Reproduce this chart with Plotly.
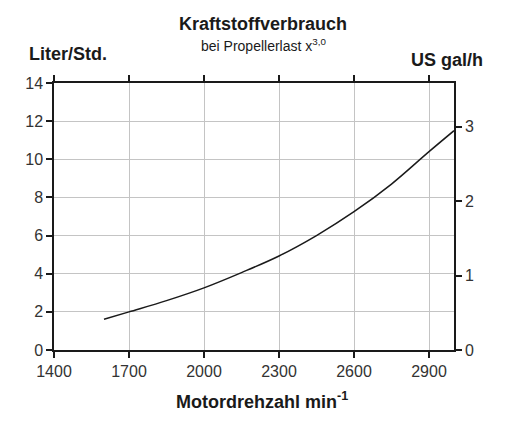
import plotly.graph_objects as go

# Data
rpm = [1600, 1700, 1850, 2000, 2150, 2300, 2450, 2600, 2750, 2900, 3000]
liters_per_hour = [1.61, 2.0, 2.59, 3.26, 4.06, 4.93, 6.0, 7.25, 8.7, 10.4, 11.5]
x_ticks = [1400, 1700, 2000, 2300, 2600, 2900]
y_ticks = [0, 2, 4, 6, 8, 10, 12, 14]
gal_ticks = [0, 1, 2, 3]
L_PER_GAL = 3.9  # scale ratio as drawn on the right axis

FONT = "Liberation Sans, Arial, sans-serif"
AX = "#1a1a1a"
GRID = "#c4c4c4"
TICKFONT = dict(family=FONT, size=16, color="#333333")

W, H = 514, 426
ML, MR, MT, MB = 54, 60, 83, 76
pw, ph = W - ML - MR, H - MT - MB

fig = go.Figure()
fig.add_trace(go.Scatter(
    x=rpm, y=liters_per_hour, mode="lines",
    line=dict(color="#1a1a1a", width=1.5, shape="spline", smoothing=1.0),
    showlegend=False, hoverinfo="skip",
))
fig.add_trace(go.Scatter(
    x=rpm, y=[v / L_PER_GAL for v in liters_per_hour], yaxis="y2", mode="lines",
    line=dict(color="rgba(0,0,0,0)", width=0),
    showlegend=False, hoverinfo="skip",
))


def ann(text, px, py, size):
    return dict(
        text=text, x=(px - ML) / pw, y=(H - py - MB) / ph,
        xref="paper", yref="paper", xanchor="center", yanchor="middle",
        showarrow=False, font=dict(family=FONT, size=size, color="#1a1a1a"),
    )


fig.update_layout(
    width=W, height=H,
    margin=dict(l=ML, r=MR, t=MT, b=MB),
    paper_bgcolor="white", plot_bgcolor="white",
    xaxis=dict(
        range=[1400, 3000], tickvals=x_ticks, ticktext=[str(v) for v in x_ticks],
        showgrid=True, gridcolor=GRID, gridwidth=1,
        showline=True, linecolor=AX, linewidth=1.5, mirror="ticks",
        ticks="outside", ticklen=6, tickcolor=AX, tickwidth=1.5,
        tickfont=TICKFONT, zeroline=False, fixedrange=True,
    ),
    yaxis=dict(
        range=[0, 14], tickvals=y_ticks,
        showgrid=True, gridcolor=GRID, gridwidth=1,
        showline=True, linecolor=AX, linewidth=1.5,
        ticks="outside", ticklen=6, tickcolor=AX, tickwidth=1.5,
        tickfont=TICKFONT, zeroline=False, fixedrange=True,
    ),
    yaxis2=dict(
        overlaying="y", side="right", range=[0, 14 / L_PER_GAL], tickvals=gal_ticks,
        showgrid=False, showline=True, linecolor=AX, linewidth=1.5,
        ticks="outside", ticklen=6, tickcolor=AX, tickwidth=1.5,
        tickfont=TICKFONT, zeroline=False, fixedrange=True,
    ),
    annotations=[
        ann("<b>Kraftstoffverbrauch</b>", 263, 24, 18),
        ann("bei Propellerlast x<sup>3,0</sup>", 263, 45, 14),
        ann("<b>Liter/Std.</b>", 68, 54, 18),
        ann("<b>US gal/h</b>", 447, 60, 18),
        ann("<b>Motordrehzahl min<sup>-1</sup></b>", 262, 400, 18),
    ],
)

fig.write_html(
    "out.html",
    config={"displayModeBar": False},
    post_script="document.body.style.margin='0';",
)
